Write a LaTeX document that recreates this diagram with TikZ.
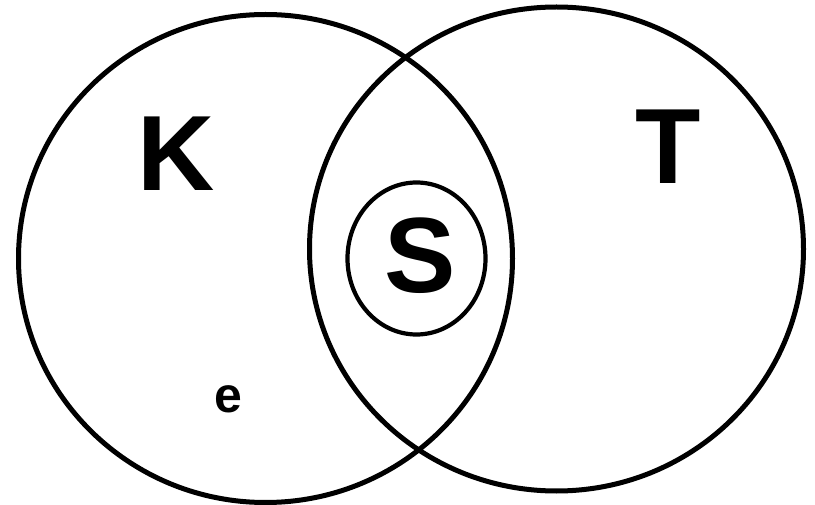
\documentclass[tikz,border=0pt]{standalone}
\usepackage{fontspec}
\setmainfont{Liberation Sans}
\usetikzlibrary{positioning}

\begin{document}
\begin{tikzpicture}[
  x=1pt, y=-1pt,
  set/.style={line width=5pt},
  subset/.style={line width=4.2pt},
  biglabel/.style={anchor=base, inner sep=0pt, font=\fontsize{107}{110}\selectfont\bfseries},
  smalllabel/.style={anchor=base, inner sep=0pt, font=\fontsize{50}{52}\selectfont\bfseries}
]
\useasboundingbox (0,0) rectangle (815,505);
% ---------- Sets ----------
\draw[set] (265.5,258.5) ellipse [x radius=247, y radius=244];
\draw[set] (556.5,249) ellipse [x radius=247, y radius=242];
\draw[subset] (416.5,258.5) ellipse [x radius=69, y radius=76];

% ---------- Labels ----------
\node[biglabel] (K) at (176,191) {K};
\node[biglabel] (T) at (668.5,184) {T};
\node[biglabel] (S) at (420,293) {S};
\node[smalllabel] (e) at (228,413) {e};
\end{tikzpicture}
\end{document}
